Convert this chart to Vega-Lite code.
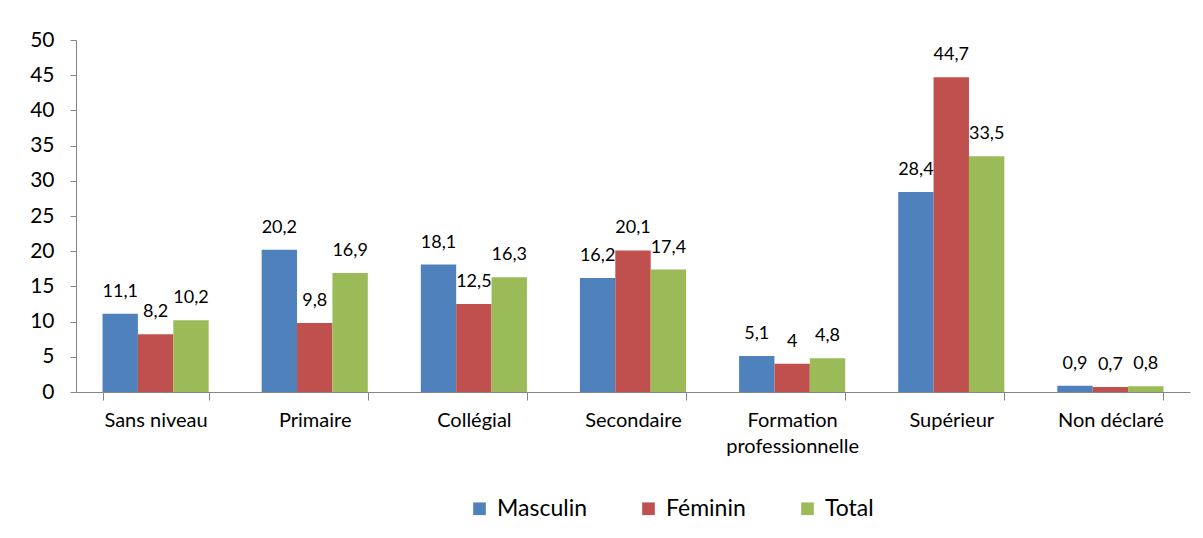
{
  "$schema": "https://vega.github.io/schema/vega-lite/v6.json",
  "autosize": "none",
  "width": 1114,
  "height": 352,
  "padding": {"left": 76, "top": 40, "right": 13, "bottom": 146},
  "background": "white",
  "config": {
    "view": {"stroke": null},
    "font": "Lato",
    "locale": {"number": {"decimal": ",", "thousands": " ", "grouping": [3], "currency": ["", " €"]}}
  },
  "data": {
    "values": [
      {"niveau": "Sans niveau", "sexe": "Masculin", "valeur": 11.1},
      {"niveau": "Sans niveau", "sexe": "Féminin", "valeur": 8.2},
      {"niveau": "Sans niveau", "sexe": "Total", "valeur": 10.2},
      {"niveau": "Primaire", "sexe": "Masculin", "valeur": 20.2},
      {"niveau": "Primaire", "sexe": "Féminin", "valeur": 9.8},
      {"niveau": "Primaire", "sexe": "Total", "valeur": 16.9},
      {"niveau": "Collégial", "sexe": "Masculin", "valeur": 18.1},
      {"niveau": "Collégial", "sexe": "Féminin", "valeur": 12.5},
      {"niveau": "Collégial", "sexe": "Total", "valeur": 16.3},
      {"niveau": "Secondaire", "sexe": "Masculin", "valeur": 16.2},
      {"niveau": "Secondaire", "sexe": "Féminin", "valeur": 20.1},
      {"niveau": "Secondaire", "sexe": "Total", "valeur": 17.4},
      {"niveau": "Formation professionnelle", "sexe": "Masculin", "valeur": 5.1},
      {"niveau": "Formation professionnelle", "sexe": "Féminin", "valeur": 4},
      {"niveau": "Formation professionnelle", "sexe": "Total", "valeur": 4.8},
      {"niveau": "Supérieur", "sexe": "Masculin", "valeur": 28.4},
      {"niveau": "Supérieur", "sexe": "Féminin", "valeur": 44.7},
      {"niveau": "Supérieur", "sexe": "Total", "valeur": 33.5},
      {"niveau": "Non déclaré", "sexe": "Masculin", "valeur": 0.9},
      {"niveau": "Non déclaré", "sexe": "Féminin", "valeur": 0.7},
      {"niveau": "Non déclaré", "sexe": "Total", "valeur": 0.8}
    ]
  },
  "encoding": {
    "x": {
      "field": "niveau",
      "type": "nominal",
      "sort": ["Sans niveau", "Primaire", "Collégial", "Secondaire", "Formation professionnelle", "Supérieur", "Non déclaré"],
      "scale": {"paddingInner": 0.333, "paddingOuter": 0.1667},
      "axis": {
        "title": null,
        "labelAngle": 0,
        "labelFontSize": 20,
        "labelColor": "#000000",
        "labelPadding": 10,
        "labelLineHeight": 26,
        "labelExpr": "datum.label == 'Formation professionnelle' ? ['Formation', 'professionnelle'] : datum.label",
        "tickBand": "extent",
        "tickSize": 8,
        "tickColor": "#868686",
        "domainColor": "#868686",
        "grid": false
      }
    },
    "xOffset": {
      "field": "sexe",
      "type": "nominal",
      "sort": ["Masculin", "Féminin", "Total"],
      "scale": {"paddingInner": 0, "paddingOuter": 0}
    },
    "y": {
      "field": "valeur",
      "type": "quantitative",
      "scale": {"domain": [0, 50], "nice": false},
      "axis": {
        "title": null,
        "values": [0, 5, 10, 15, 20, 25, 30, 35, 40, 45, 50],
        "labelFontSize": 21,
        "labelColor": "#000000",
        "labelPadding": 16,
        "tickSize": 6,
        "tickColor": "#868686",
        "domainColor": "#868686",
        "grid": false
      }
    }
  },
  "layer": [
    {
      "mark": {"type": "bar"},
      "encoding": {
        "color": {
          "field": "sexe",
          "type": "nominal",
          "sort": ["Masculin", "Féminin", "Total"],
          "scale": {"domain": ["Masculin", "Féminin", "Total"], "range": ["#4F81BD", "#C0504D", "#9BBB59"]},
          "legend": {
            "title": null,
            "orient": "none",
            "direction": "horizontal",
            "legendX": 392,
            "legendY": 457,
            "symbolType": "square",
            "symbolSize": 160,
            "symbolStrokeWidth": 0,
            "labelFontSize": 23,
            "labelColor": "#000000",
            "labelOffset": 6,
            "columnPadding": 50
          }
        }
      }
    },
    {
      "mark": {"type": "text", "baseline": "bottom", "dy": -13, "fontSize": 18, "color": "#000000"},
      "encoding": {
        "text": {"field": "valeur", "type": "quantitative", "format": ".1~f"}
      }
    }
  ]
}
